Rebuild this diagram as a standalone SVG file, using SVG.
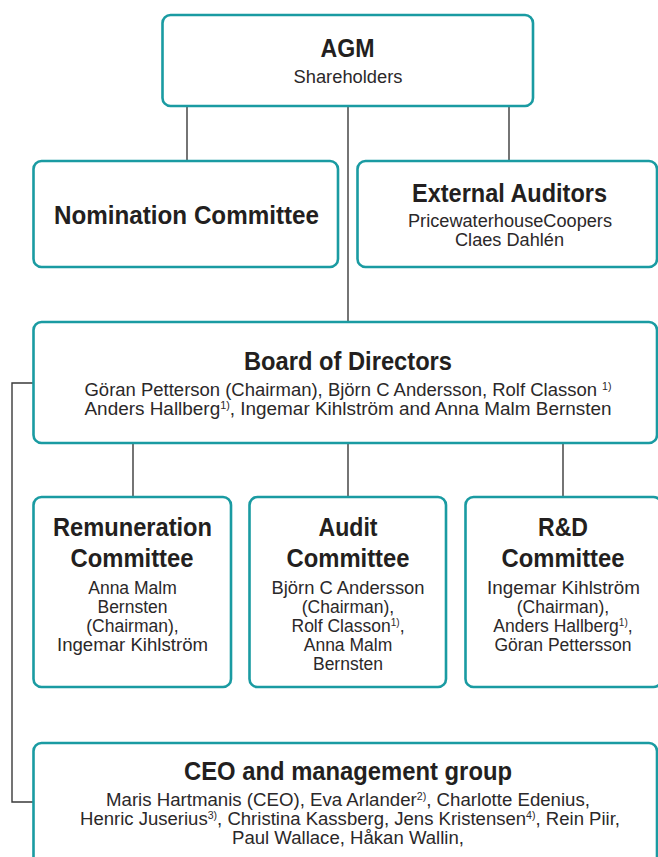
<svg xmlns="http://www.w3.org/2000/svg" width="658" height="857" viewBox="0 0 658 857">
<style>
.box{fill:#ffffff;stroke:#1a9ba2;stroke-width:2.6}
.t{font-family:"Liberation Sans",Arial,sans-serif;font-weight:bold;font-size:25.5px;fill:#231f20;text-anchor:middle}
.s{font-family:"Liberation Sans",Arial,sans-serif;font-size:17.5px;fill:#2b2829;text-anchor:middle}
.sup{font-size:10px}
.c{fill:none;stroke:#3a3a3a;stroke-width:1.4}
</style>
<rect width="658" height="857" fill="#ffffff"/>
<g id="connectors">
<line class="c" x1="187" y1="106" x2="187" y2="161"/>
<line class="c" x1="348" y1="106" x2="348" y2="322"/>
<line class="c" x1="509" y1="106" x2="509" y2="161"/>
<line class="c" x1="133" y1="443" x2="133" y2="497"/>
<line class="c" x1="348" y1="443" x2="348" y2="497"/>
<line class="c" x1="563" y1="443" x2="563" y2="497"/>
<polyline class="c" points="33,383 12,383 12,802 33,802"/>
</g>
<g id="agm">
<rect class="box" x="162.5" y="15" width="370.5" height="91" rx="8"/>
<text class="t" x="347.5" y="57" textLength="54" lengthAdjust="spacingAndGlyphs">AGM</text>
<text class="s" x="348" y="83" textLength="109" lengthAdjust="spacingAndGlyphs">Shareholders</text>
</g>
<g id="nomination">
<rect class="box" x="33.5" y="161" width="304.5" height="106" rx="8"/>
<text class="t" x="186.5" y="224" textLength="265" lengthAdjust="spacingAndGlyphs">Nomination Committee</text>
</g>
<g id="auditors">
<rect class="box" x="357.5" y="161" width="299.5" height="106" rx="8"/>
<text class="t" x="509.5" y="202" textLength="195" lengthAdjust="spacingAndGlyphs">External Auditors</text>
<text class="s" x="510" y="226.5" textLength="204" lengthAdjust="spacingAndGlyphs">PricewaterhouseCoopers</text>
<text class="s" x="509.5" y="245.5" textLength="109" lengthAdjust="spacingAndGlyphs">Claes Dahlén</text>
</g>
<g id="board">
<rect class="box" x="33.5" y="322" width="623.5" height="121" rx="8"/>
<text class="t" x="348" y="370" textLength="208" lengthAdjust="spacingAndGlyphs">Board of Directors</text>
<text class="s" x="348" y="395.5" textLength="527" lengthAdjust="spacingAndGlyphs">Göran Petterson (Chairman), Björn C Andersson, Rolf Classon <tspan class="sup" dy="-6">1)</tspan></text>
<text class="s" x="348" y="414.5" textLength="527" lengthAdjust="spacingAndGlyphs">Anders Hallberg<tspan class="sup" dy="-6">1)</tspan><tspan dy="6">, Ingemar Kihlström and Anna Malm Bernsten</tspan></text>
</g>
<g id="remuneration">
<rect class="box" x="33.5" y="497" width="197.5" height="190" rx="8"/>
<text class="t" x="132.5" y="536" textLength="159" lengthAdjust="spacingAndGlyphs">Remuneration</text>
<text class="t" x="132" y="567" textLength="123" lengthAdjust="spacingAndGlyphs">Committee</text>
<text class="s" x="132.5" y="594">Anna Malm</text>
<text class="s" x="132.5" y="613">Bernsten</text>
<text class="s" x="132.5" y="632">(Chairman),</text>
<text class="s" x="132.5" y="651" textLength="151" lengthAdjust="spacingAndGlyphs">Ingemar Kihlström</text>
</g>
<g id="audit">
<rect class="box" x="249.5" y="497" width="196.5" height="190" rx="8"/>
<text class="t" x="348" y="536" textLength="59" lengthAdjust="spacingAndGlyphs">Audit</text>
<text class="t" x="348" y="567" textLength="123" lengthAdjust="spacingAndGlyphs">Committee</text>
<text class="s" x="348" y="593.5" textLength="153" lengthAdjust="spacingAndGlyphs">Björn C Andersson</text>
<text class="s" x="348" y="612.5">(Chairman),</text>
<text class="s" x="348" y="631.5">Rolf Classon<tspan class="sup" dy="-6">1)</tspan><tspan dy="6">,</tspan></text>
<text class="s" x="348" y="650.5">Anna Malm</text>
<text class="s" x="348" y="669.5">Bernsten</text>
</g>
<g id="rnd">
<rect class="box" x="465.5" y="497" width="196" height="190" rx="8"/>
<text class="t" x="563" y="536" textLength="50" lengthAdjust="spacingAndGlyphs">R&amp;D</text>
<text class="t" x="563" y="567" textLength="123" lengthAdjust="spacingAndGlyphs">Committee</text>
<text class="s" x="563.5" y="594" textLength="153" lengthAdjust="spacingAndGlyphs">Ingemar Kihlström</text>
<text class="s" x="563" y="613">(Chairman),</text>
<text class="s" x="563" y="632">Anders Hallberg<tspan class="sup" dy="-6">1)</tspan><tspan dy="6">,</tspan></text>
<text class="s" x="563" y="651">Göran Pettersson</text>
</g>
<g id="ceo">
<rect class="box" x="33.5" y="743" width="623.5" height="130" rx="8"/>
<text class="t" x="348" y="780" textLength="328" lengthAdjust="spacingAndGlyphs">CEO and management group</text>
<text class="s" x="348" y="806" textLength="484" lengthAdjust="spacingAndGlyphs">Maris Hartmanis (CEO), Eva Arlander<tspan class="sup" dy="-6">2)</tspan><tspan dy="6">, Charlotte Edenius,</tspan></text>
<text class="s" x="350" y="825" textLength="540" lengthAdjust="spacingAndGlyphs">Henric Juserius<tspan class="sup" dy="-6">3)</tspan><tspan dy="6">, Christina Kassberg, Jens Kristensen</tspan><tspan class="sup" dy="-6">4)</tspan><tspan dy="6">, Rein Piir,</tspan></text>
<text class="s" x="348" y="844" textLength="232" lengthAdjust="spacingAndGlyphs">Paul Wallace, Håkan Wallin,</text>
</g>
</svg>
